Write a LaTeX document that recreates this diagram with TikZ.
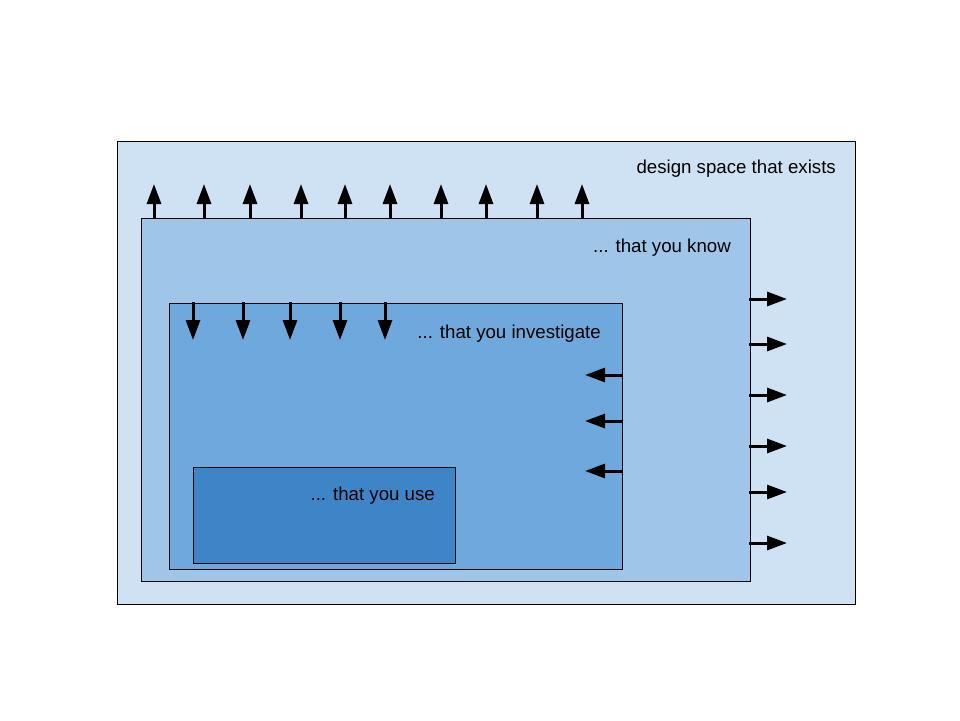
\documentclass[tikz,border=0pt]{standalone}
\usepackage{fontspec}
\setmainfont{Liberation Sans}
\usepackage{tikz}
\usepackage{xcolor}
\usetikzlibrary{arrows.meta}

\definecolor{spaceA}{HTML}{CFE2F3}
\definecolor{spaceB}{HTML}{9FC5E8}
\definecolor{spaceC}{HTML}{6FA8DC}
\definecolor{spaceD}{HTML}{3D85C6}

\begin{document}
\begin{tikzpicture}[x=1pt, y=-1pt,
  region/.style={draw=black, line width=1pt},
  pusharrow/.style={line width=3pt, -{Triangle[length=20pt, width=14pt]}},
  spacelabel/.style={anchor=base east, inner sep=0pt, font=\fontsize{18.67}{22}\selectfont}]
\useasboundingbox (0,0) rectangle (960,720);

% Nested regions
\draw[region, fill=spaceA] (117,141) rectangle (855,604);
\draw[region, fill=spaceB] (141,218) rectangle (750,581);
\draw[region, fill=spaceC] (169,303) rectangle (622,569);
\draw[region, fill=spaceD] (193,467) rectangle (455,563);

% Known space grows up and to the right
\foreach \x in {154,204,250,301,345,390,441,486,537,582}
  \draw[pusharrow] (\x,219) -- (\x,184);
\foreach \y in {299,344,395,446,492,543}
  \draw[pusharrow] (749,\y) -- (787,\y);

% Investigated space shrinks down and to the left
\foreach \x in {193,243,290,340,385}
  \draw[pusharrow] (\x,302) -- (\x,340);
\foreach \y in {375,421,471}
  \draw[pusharrow] (623,\y) -- (585,\y);

% Labels
\node[spacelabel] (exists) at (836,173) {design space that exists};
\node[spacelabel] (know) at (731,252) {... that you know};
\node[spacelabel] (investigate) at (601,338) {... that you investigate};
\node[spacelabel] (use) at (435,500) {... that you use};
\end{tikzpicture}
\end{document}
